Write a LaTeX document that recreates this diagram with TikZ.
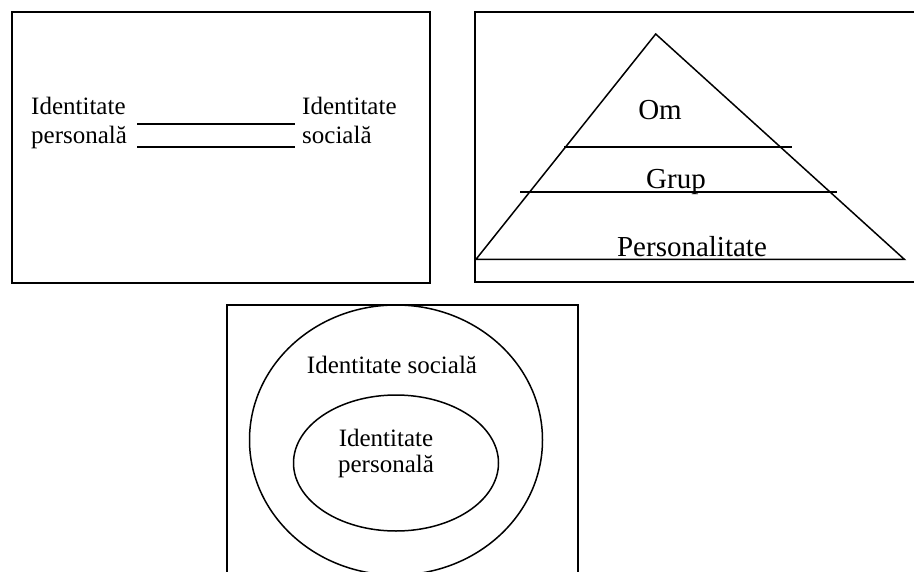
\documentclass[tikz,border=0pt]{standalone}
\usepackage{fontspec}
\setmainfont{Liberation Serif}
\begin{document}
\begin{tikzpicture}[x=1pt,y=-1pt,
  frame/.style={line width=2pt},
  thinline/.style={line width=1.5pt},
  boldline/.style={line width=2.2pt},
  lbl/.style={inner sep=0pt, anchor=base, font=\fontsize{25}{29}\selectfont},
  biglbl/.style={inner sep=0pt, anchor=base, font=\fontsize{29}{33}\selectfont}]
\useasboundingbox (0,0) rectangle (914,571);
\clip (0,0) rectangle (914,571);

% Panel 1: personal vs. social identity, two parallel lines
\draw[frame] (11.5,12.3) rectangle (430,283);
\node[lbl, anchor=base west] (pid1) at (31,114) {Identitate};
\node[lbl, anchor=base west] (pid2) at (31,143) {personală};
\node[lbl, anchor=base west] (sid1) at (302,114) {Identitate};
\node[lbl, anchor=base west] (sid2) at (302,143) {socială};
\coordinate (l1a) at (137,124);
\coordinate (l1b) at (295,124);
\coordinate (l2a) at (137,147);
\coordinate (l2b) at (295,147);
\draw[thinline] (l1a) -- (l1b);
\draw[boldline] (l2a) -- (l2b);

% Panel 2: pyramid of levels
\draw[frame] (474.7,11.7) rectangle (930,281.7);
\coordinate (apex) at (655.7,34);
\coordinate (bl) at (476,259.3);
\coordinate (br) at (904.3,259.3);
\draw[thinline] (bl) -- (apex) -- (br) -- cycle;
\coordinate (ua) at (564.3,147);
\coordinate (ub) at (791.7,147);
\coordinate (ma) at (520,192);
\coordinate (mb) at (836.7,192);
\draw[thinline] (ua) -- (ub);
\draw[thinline] (ma) -- (mb);
\node[biglbl] (om) at (660,119) {Om};
\node[biglbl] (grup) at (676,188.5) {Grup};
\node[biglbl] (pers) at (692,256.7) {Personalitate};

% Panel 3: nested identities
\draw[frame] (227.3,305) rectangle (578.3,620);
\draw[thinline] (396,440) ellipse [x radius=146.5, y radius=135];
\draw[thinline] (396,463) ellipse [x radius=102.5, y radius=68];
\node[lbl] (soc) at (392,373.3) {Identitate socială};
\node[lbl] (per1) at (386,446.7) {Identitate};
\node[lbl] (per2) at (386,472.7) {personală};
\end{tikzpicture}
\end{document}
